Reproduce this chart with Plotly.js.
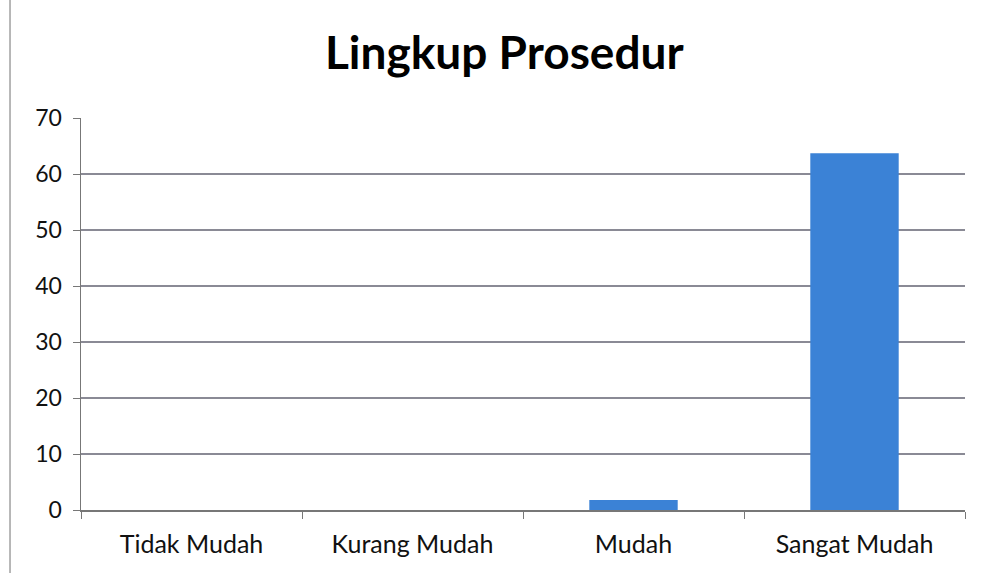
<!DOCTYPE html>
<html>
<head>
<meta charset="utf-8">
<script src="https://cdn.plot.ly/plotly-3.0.1.min.js"></script>
<style>html,body{margin:0;padding:0;background:#fff;}#chart{width:985px;height:573px;}</style>
</head>
<body>
<div id="chart"></div>
<script>
const categories = ["Tidak Mudah", "Kurang Mudah", "Mudah", "Sangat Mudah"];
const values = [0, 0, 1.8, 63.7];
const yTicks = [0, 10, 20, 30, 40, 50, 60, 70];

const trace = {
  type: "bar",
  x: categories,
  y: values,
  marker: {color: "#3b82d6", line: {width: 0}},
  hoverinfo: "x+y"
};

const layout = {
  width: 985, height: 573,
  margin: {l: 81, r: 20, t: 118, b: 63},
  paper_bgcolor: "#ffffff",
  plot_bgcolor: "#ffffff",
  bargap: 0.6,
  showlegend: false,
  font: {family: "Lato, sans-serif", color: "#111"},
  title: {
    text: "<b>Lingkup Prosedur</b>",
    font: {family: "Lato, sans-serif", size: 46, color: "#000"},
    x: 0.512, xanchor: "center",
    y: 0.907, yanchor: "middle",
    xref: "container"
  },
  xaxis: {
    type: "category",
    showgrid: false,
    showline: true, linecolor: "#777", linewidth: 1.5,
    ticks: "outside", tickson: "boundaries", ticklen: 7, tickcolor: "#777",
    tickfont: {family: "Lato, sans-serif", size: 25, color: "#111"},
    ticklabelstandoff: 11,
    zeroline: false
  },
  yaxis: {
    range: [0, 70],
    tickvals: yTicks,
    showgrid: true, gridcolor: "#8a8a95", gridwidth: 1.3,
    showline: true, linecolor: "#777", linewidth: 1.5,
    ticks: "outside", ticklen: 7, tickcolor: "#777",
    tickfont: {family: "Lato, sans-serif", size: 23, color: "#111"},
    ticklabelstandoff: 6,
    zeroline: false
  },
  shapes: [{
    type: "line", xref: "paper", yref: "paper",
    x0: -0.0803, x1: -0.0803, y0: -0.2, y1: 1.35,
    line: {color: "#888", width: 1.2}
  }]
};

Plotly.newPlot("chart", [trace], layout, {staticPlot: true, displayModeBar: false});
</script>
</body>
</html>
